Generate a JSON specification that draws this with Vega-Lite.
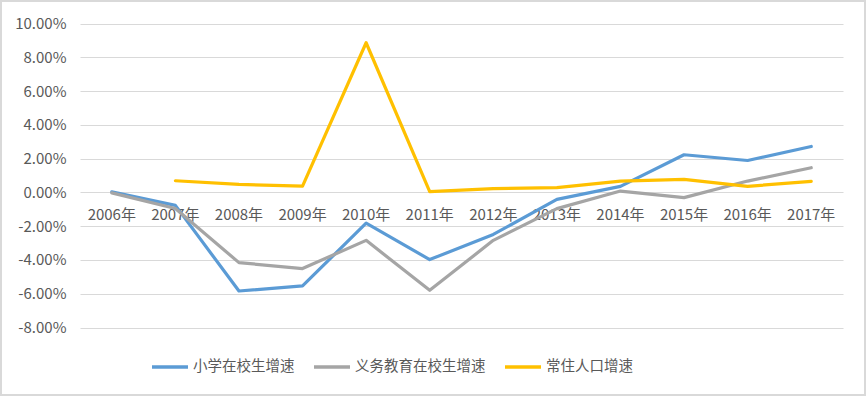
{
  "$schema": "https://vega.github.io/schema/vega-lite/v6.json",
  "width": 866,
  "height": 396,
  "padding": 0,
  "autosize": {"type": "none"},
  "background": "#ffffff",
  "config": {
    "view": {"stroke": "#d9d9d9", "strokeWidth": 4},
    "font": "Noto Sans CJK SC",
    "locale": {"number": {"decimal": ".", "thousands": ",", "grouping": [3], "currency": ["$", ""], "minus": "-"}}
  },
  "data": {
    "values": [
      {"year": "2006年", "series": "小学在校生增速", "value": 0.0003},
      {"year": "2007年", "series": "小学在校生增速", "value": -0.0077},
      {"year": "2008年", "series": "小学在校生增速", "value": -0.0584},
      {"year": "2009年", "series": "小学在校生增速", "value": -0.0554},
      {"year": "2010年", "series": "小学在校生增速", "value": -0.0182},
      {"year": "2011年", "series": "小学在校生增速", "value": -0.0398},
      {"year": "2012年", "series": "小学在校生增速", "value": -0.0249},
      {"year": "2013年", "series": "小学在校生增速", "value": -0.0041},
      {"year": "2014年", "series": "小学在校生增速", "value": 0.0036},
      {"year": "2015年", "series": "小学在校生增速", "value": 0.0223},
      {"year": "2016年", "series": "小学在校生增速", "value": 0.0189},
      {"year": "2017年", "series": "小学在校生增速", "value": 0.0272},
      {"year": "2006年", "series": "义务教育在校生增速", "value": -0.0003},
      {"year": "2007年", "series": "义务教育在校生增速", "value": -0.0095},
      {"year": "2008年", "series": "义务教育在校生增速", "value": -0.0416},
      {"year": "2009年", "series": "义务教育在校生增速", "value": -0.0451},
      {"year": "2010年", "series": "义务教育在校生增速", "value": -0.0284},
      {"year": "2011年", "series": "义务教育在校生增速", "value": -0.058},
      {"year": "2012年", "series": "义务教育在校生增速", "value": -0.0284},
      {"year": "2013年", "series": "义务教育在校生增速", "value": -0.0096},
      {"year": "2014年", "series": "义务教育在校生增速", "value": 0.0008},
      {"year": "2015年", "series": "义务教育在校生增速", "value": -0.0031},
      {"year": "2016年", "series": "义务教育在校生增速", "value": 0.0067},
      {"year": "2017年", "series": "义务教育在校生增速", "value": 0.0146},
      {"year": "2006年", "series": "常住人口增速", "value": null},
      {"year": "2007年", "series": "常住人口增速", "value": 0.0069},
      {"year": "2008年", "series": "常住人口增速", "value": 0.0047},
      {"year": "2009年", "series": "常住人口增速", "value": 0.0037},
      {"year": "2010年", "series": "常住人口增速", "value": 0.0886},
      {"year": "2011年", "series": "常住人口增速", "value": 0.0004},
      {"year": "2012年", "series": "常住人口增速", "value": 0.0022},
      {"year": "2013年", "series": "常住人口增速", "value": 0.0028},
      {"year": "2014年", "series": "常住人口增速", "value": 0.0067},
      {"year": "2015年", "series": "常住人口增速", "value": 0.0077},
      {"year": "2016年", "series": "常住人口增速", "value": 0.0036},
      {"year": "2017年", "series": "常住人口增速", "value": 0.0065}
    ]
  },
  "mark": {"type": "line", "strokeWidth": 3.2, "strokeJoin": "round", "strokeCap": "round"},
  "encoding": {
    "x": {
      "field": "year",
      "type": "ordinal",
      "sort": null,
      "scale": {"type": "band", "range": [80, 843], "paddingInner": 0, "paddingOuter": 0},
      "axis": {
        "title": null,
        "orient": "bottom",
        "offset": -204,
        "domain": false,
        "ticks": false,
        "grid": false,
        "labelAngle": 0,
        "labelPadding": 15,
        "labelFontSize": 15,
        "labelColor": "#595959",
        "labelFont": "Noto Sans CJK SC"
      }
    },
    "y": {
      "field": "value",
      "type": "quantitative",
      "scale": {"domain": [-0.08, 0.1], "range": [327.5, 23.5], "nice": false, "zero": false},
      "axis": {
        "title": null,
        "offset": -80,
        "values": [-0.08, -0.06, -0.04, -0.02, 0, 0.02, 0.04, 0.06, 0.08, 0.1],
        "format": ".2%",
        "domain": false,
        "ticks": false,
        "grid": true,
        "gridColor": "#d9d9d9",
        "gridWidth": 1,
        "labelPadding": 14,
        "labelFontSize": 15,
        "labelColor": "#595959",
        "labelFont": "Noto Sans CJK SC"
      }
    },
    "color": {
      "field": "series",
      "type": "nominal",
      "sort": ["小学在校生增速", "义务教育在校生增速", "常住人口增速"],
      "scale": {
        "domain": ["小学在校生增速", "义务教育在校生增速", "常住人口增速"],
        "range": ["#5B9BD5", "#A5A5A5", "#FFC000"]
      },
      "legend": {
        "title": null,
        "orient": "none",
        "legendX": 150,
        "legendY": 347,
        "direction": "horizontal",
        "symbolType": "stroke",
        "symbolSize": 1296,
        "symbolStrokeWidth": 3.5,
        "columnPadding": 12,
        "labelOffset": 3,
        "labelFontSize": 14.5,
        "labelColor": "#595959",
        "labelFont": "Noto Sans CJK SC"
      }
    }
  }
}
